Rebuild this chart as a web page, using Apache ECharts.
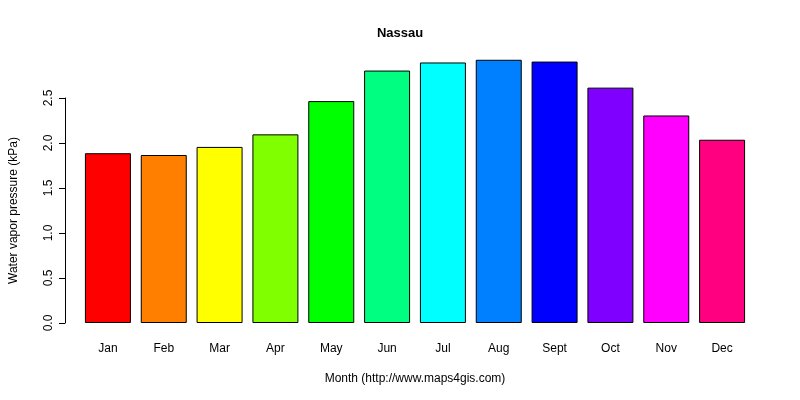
<!DOCTYPE html>
<html><head><meta charset="utf-8">
<script src="https://cdn.jsdelivr.net/npm/echarts@6/dist/echarts.min.js"></script>
<style>html,body{margin:0;background:#fff}#c{width:800px;height:400px}</style>
</head><body><div id="c"></div>
<script>
const categories=['Jan','Feb','Mar','Apr','May','Jun','Jul','Aug','Sept','Oct','Nov','Dec'];
const values=[1.89,1.87,1.96,2.10,2.47,2.81,2.90,2.93,2.91,2.62,2.31,2.04];
const colors=['#FF0000','#FF8000','#FFFF00','#80FF00','#00FF00','#00FF80','#00FFFF','#0080FF','#0000FF','#8000FF','#FF00FF','#FF0080'];
const yTicks=[0,0.5,1,1.5,2,2.5];
const F='Liberation Sans, Arial, sans-serif';
const chart=echarts.init(document.getElementById('c'));
chart.setOption({
  animation:false,
  title:{text:'Nassau',left:'center',top:22,textStyle:{fontFamily:F,fontSize:13,fontWeight:'bold',color:'#000'}},
  grid:[{left:80,right:50,top:49,bottom:77},{left:80,right:50,top:98,bottom:77}],
  xAxis:[{type:'category',data:categories,gridIndex:0,axisLine:{show:false},axisTick:{show:false},
    axisLabel:{fontFamily:F,fontSize:12,color:'#000',margin:20},
    name:'Month (http://www.maps4gis.com)',nameLocation:'middle',nameGap:50,nameTextStyle:{fontFamily:F,fontSize:12,color:'#000'}},
    {type:'category',data:categories,gridIndex:1,show:false}],
  yAxis:[{type:'value',gridIndex:0,min:0,max:3.05,show:false},
    {type:'value',gridIndex:1,min:0,max:2.5,interval:0.5,offset:20,
     axisLine:{show:true,lineStyle:{color:'#000'}},axisTick:{show:true,length:6,lineStyle:{color:'#000'}},
     splitLine:{show:false},
     axisLabel:{rotate:90,fontFamily:F,fontSize:12,color:'#000',margin:10,formatter:v=>yTicks.includes(v)?v.toFixed(1):''},
     name:'Water vapor pressure (kPa)',nameLocation:'middle',nameGap:45,nameTextStyle:{fontFamily:F,fontSize:12,color:'#000'}}],
  series:[{type:'bar',xAxisIndex:0,yAxisIndex:0,barWidth:46,
    data:values.map((v,i)=>({value:v,itemStyle:{color:colors[i],borderColor:'#000',borderWidth:1}}))}]
});
</script></body></html>
